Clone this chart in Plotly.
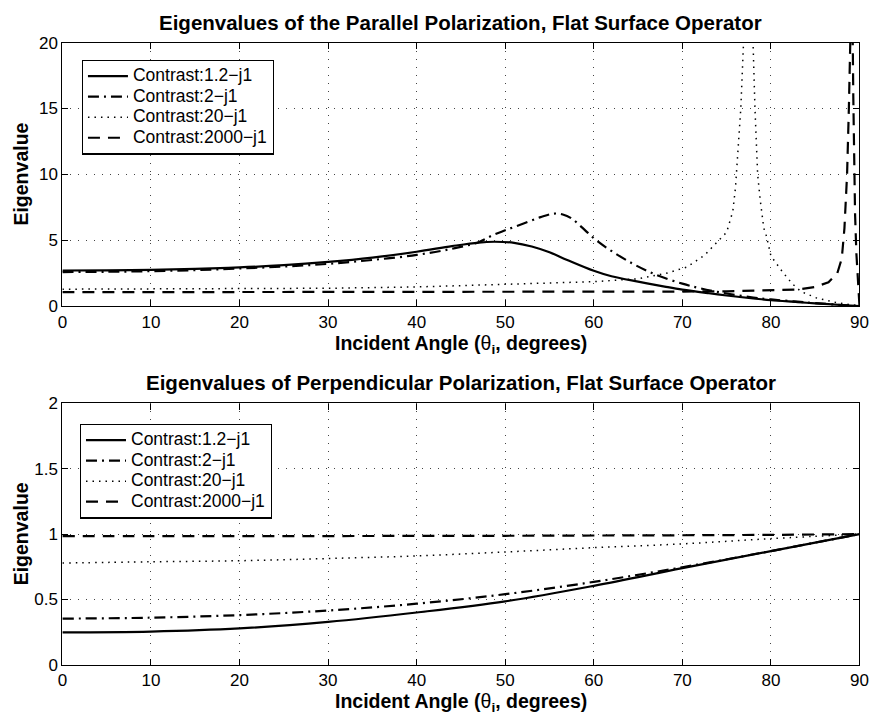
import plotly.graph_objects as go

# ---------------- data ----------------
# Parallel polarization (top panel)
par_c12_x = [0, 5, 10, 15, 20, 25, 30, 35, 40, 44, 47, 48.8, 51, 53, 55, 57, 60, 62, 65, 68, 70, 73, 75, 78, 80, 83, 85, 88, 90]
par_c12_y = [2.70, 2.71, 2.75, 2.82, 2.93, 3.10, 3.35, 3.68, 4.12, 4.55, 4.82, 4.88, 4.80, 4.52, 4.08, 3.50, 2.68, 2.26, 1.85, 1.48, 1.25, 0.97, 0.80, 0.58, 0.44, 0.30, 0.20, 0.08, 0.0]

par_c2_x = [0, 5, 10, 15, 20, 25, 30, 35, 40, 44, 47, 48.5, 50, 52, 54, 55.5, 56.5, 57.5, 58.7, 60, 61.5, 64.3, 67, 70, 72, 75, 78, 80, 83, 85, 88, 90]
par_c2_y = [2.58, 2.60, 2.65, 2.73, 2.85, 3.00, 3.20, 3.50, 3.88, 4.35, 4.85, 5.35, 5.75, 6.25, 6.75, 7.02, 6.95, 6.65, 5.95, 5.15, 4.40, 3.25, 2.38, 1.70, 1.35, 0.95, 0.65, 0.50, 0.33, 0.22, 0.08, 0.0]

par_c20_x = [0, 10, 20, 30, 40, 50, 55, 60, 65, 68.3, 70.5, 72.5, 73.7, 75, 75.7, 76.0, 76.6, 76.8, 77.1, 77.4, 77.7, 78.0, 78.2, 78.5, 78.8, 79.2, 79.5, 80, 81.3, 82.4, 83.4, 85.2, 87.5, 90]
par_c20_y = [1.28, 1.29, 1.31, 1.35, 1.45, 1.63, 1.72, 1.85, 2.07, 2.50, 2.96, 3.85, 4.70, 5.60, 7.20, 9.0, 15.0, 19.6, 24.0, 28.0, 24.0, 19.6, 15.0, 10.0, 8.0, 5.9, 5.3, 3.8, 2.6, 1.7, 1.1, 0.6, 0.25, 0.0]

par_c2000_x = [0, 30, 50, 60, 70, 75, 80, 83, 85, 86.5, 87.5, 88.0, 88.3, 88.6, 88.8, 89.0, 89.15, 89.3, 89.4, 89.5, 89.65, 89.8, 90]
par_c2000_y = [1.05, 1.05, 1.06, 1.07, 1.10, 1.12, 1.17, 1.25, 1.45, 1.80, 2.50, 3.60, 5.90, 10.0, 15.0, 20.0, 26.0, 16.0, 11.0, 7.0, 4.0, 2.0, 0.0]

# Perpendicular polarization (bottom panel)
perp_x = [0, 10, 20, 30, 40, 50, 60, 70, 80, 90]
perp_c12_y = [0.248, 0.254, 0.278, 0.328, 0.400, 0.485, 0.604, 0.739, 0.870, 1.0]
perp_c2_y = [0.353, 0.360, 0.380, 0.415, 0.467, 0.540, 0.634, 0.746, 0.870, 1.0]
perp_c20_y = [0.778, 0.788, 0.796, 0.813, 0.833, 0.863, 0.896, 0.925, 0.965, 1.0]
perp_c2000_y = [0.984, 0.984, 0.985, 0.985, 0.986, 0.987, 0.989, 0.991, 0.994, 1.0]

names = ["Contrast:1.2−j1", "Contrast:2−j1", "Contrast:20−j1", "Contrast:2000−j1"]
x_ticks = [0, 10, 20, 30, 40, 50, 60, 70, 80, 90]
top_yticks = [0, 5, 10, 15, 20]
bot_yticks = [0, 0.5, 1, 1.5, 2]
bot_yticktext = ["0", "0.5", "1", "1.5", "2"]

# ---------------- styles ----------------
FONT = "Liberation Sans, Arial, Helvetica, sans-serif"
styles = [
    dict(color="black", width=2.2, dash="solid"),
    dict(color="black", width=2.2, dash="11px,5px,2px,5px"),
    dict(color="black", width=1.5, dash="1.5px,5px"),
    dict(color="black", width=2.2, dash="12px,8px"),
]

W, H = 880, 728
px_left, px_right = 58.3, 868.3
top_t, top_b = 34.5, 305.0
bot_t, bot_b = 405.0, 673.3

def legend_label(s):
    # rendered a bit larger than the legend's row-spacing font
    return '<span style="font-size:17.5px">' + s + '</span>'

fig = go.Figure()

top_series = [(par_c12_x, par_c12_y, "spline"), (par_c2_x, par_c2_y, "spline"),
              (par_c20_x, par_c20_y, "linear"), (par_c2000_x, par_c2000_y, "linear")]
for (xs, ys, shape), nm, st in zip(top_series, names, styles):
    fig.add_trace(go.Scatter(x=xs, y=ys, mode="lines", name=legend_label(nm), line=dict(shape=shape, **st),
                             xaxis="x", yaxis="y", legend="legend"))

bot_series = [perp_c12_y, perp_c2_y, perp_c20_y, perp_c2000_y]
for ys, nm, st in zip(bot_series, names, styles):
    fig.add_trace(go.Scatter(x=perp_x, y=ys, mode="lines", name=legend_label(nm), line=dict(shape="spline", **st),
                             xaxis="x2", yaxis="y2", legend="legend2"))

axis_common = dict(
    ticks="inside", ticklen=6, tickcolor="black", tickwidth=1,
    showline=True, linecolor="black", linewidth=1.2, mirror="allticks",
    showgrid=True, gridcolor="#444", griddash="1px,7px", gridwidth=1,
    zeroline=False, tickfont=dict(family=FONT, size=17, color="black"),
)

legend_common = dict(xanchor="left", yanchor="top", bgcolor="white",
                     bordercolor="black", borderwidth=1.2, font=dict(family=FONT, size=13.5),
                     itemwidth=40, tracegroupgap=0)

fig.update_layout(
    width=W, height=H,
    margin=dict(l=0, r=0, t=0, b=0),
    paper_bgcolor="white", plot_bgcolor="white",
    font=dict(family=FONT, color="black"),
    xaxis=dict(domain=[px_left / W, px_right / W], range=[0, 90], tickvals=x_ticks, anchor="y", **axis_common),
    yaxis=dict(domain=[1 - top_b / H, 1 - top_t / H], range=[0, 20], tickvals=top_yticks, anchor="x", **axis_common),
    xaxis2=dict(domain=[px_left / W, px_right / W], range=[0, 90], tickvals=x_ticks, anchor="y2", **axis_common),
    yaxis2=dict(domain=[1 - bot_b / H, 1 - bot_t / H], range=[0, 2], tickvals=bot_yticks, ticktext=bot_yticktext,
                anchor="x2", **axis_common),
    legend=dict(x=78 / W, y=1 - 52 / H, **legend_common),
    legend2=dict(x=76 / W, y=1 - 425.7 / H, **legend_common),
    showlegend=True,
)

xmid = (px_left + px_right) / 2 / W
ann = []
title_font = dict(family=FONT, size=20.5, color="black")
label_font = dict(family=FONT, size=19.5, color="black")
ann.append(dict(text="<b>Eigenvalues of the Parallel Polarization, Flat Surface Operator</b>",
                x=xmid, y=1 - 14 / H, font=title_font))
ann.append(dict(text="<b>Eigenvalues of Perpendicular Polarization, Flat Surface Operator</b>",
                x=xmid, y=1 - 383.5 / H, font=title_font))
xlab = "<b>Incident Angle (</b>θ<sub><b>i</b></sub><b>, degrees)</b>"
ann.append(dict(text=xlab, x=xmid, y=1 - 344.5 / H, font=label_font))
ann.append(dict(text=xlab, x=xmid, y=1 - 712 / H, font=label_font))
ann.append(dict(text="<b>Eigenvalue</b>", x=16.5 / W, y=1 - (top_t + top_b) / 2 / H, textangle=-90, font=label_font))
ann.append(dict(text="<b>Eigenvalue</b>", x=16.5 / W, y=1 - (bot_t + bot_b) / 2 / H, textangle=-90, font=label_font))
for a in ann:
    a.update(xref="paper", yref="paper", showarrow=False, xanchor="center", yanchor="middle")
fig.update_layout(annotations=ann)

fig.write_html("out.html")
